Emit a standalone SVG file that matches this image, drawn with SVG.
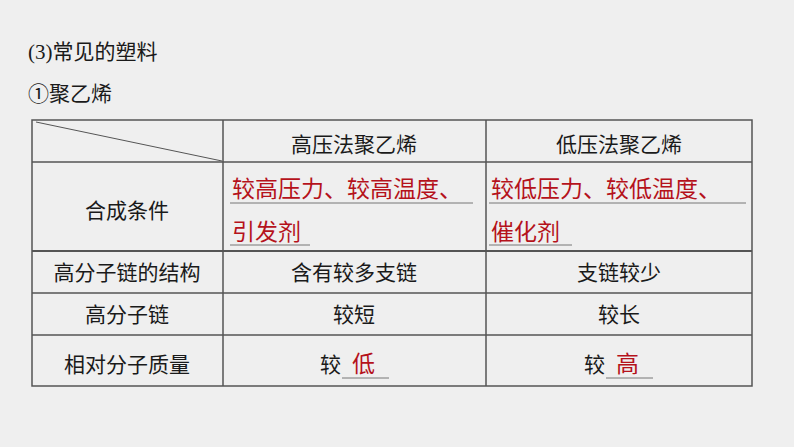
<svg xmlns="http://www.w3.org/2000/svg" width="794" height="447" viewBox="0 0 794 447">
<style>
text{font-family:"Noto Sans CJK SC","Liberation Sans",sans-serif;font-size:21px;fill:#1a1a1a}
.c{text-anchor:middle}
.r{fill:#b5121b;font-size:23px}
.g{stroke:#555;stroke-width:1.5;fill:none}
.u{stroke:#777;stroke-width:1;fill:none}
</style>
<rect width="794" height="447" fill="#efefef"/>
<text x="28" y="59" font-size="22"><tspan font-family="Liberation Serif">(3)</tspan>常见的塑料</text>
<text x="28" y="101" font-size="22">①聚乙烯</text>
<g id="table" class="g">
<rect x="32" y="120" width="720" height="266"/>
<line x1="32" y1="162" x2="752" y2="162"/>
<line x1="32" y1="251" x2="752" y2="251" stroke-width="2"/>
<line x1="32" y1="293" x2="752" y2="293"/>
<line x1="32" y1="335" x2="752" y2="335"/>
<line x1="223" y1="120" x2="223" y2="386"/>
<line x1="486" y1="120" x2="486" y2="386"/>
<line x1="36" y1="122" x2="222" y2="161" stroke-width="1"/>
</g>
<g id="header">
<text class="c" x="354" y="152">高压法聚乙烯</text>
<text class="c" x="619" y="152">低压法聚乙烯</text>
</g>
<g id="row1">
<text class="c" x="127" y="218">合成条件</text>
<text class="r" x="232" y="197">较高压力、较高温度、</text>
<line class="u" x1="230" y1="203" x2="473" y2="203"/>
<text class="r" x="232" y="240">引发剂</text>
<line class="u" x1="230" y1="245" x2="310" y2="245"/>
<text class="r" x="491" y="197">较低压力、较低温度、</text>
<line class="u" x1="489" y1="203" x2="746" y2="203"/>
<text class="r" x="491" y="240">催化剂</text>
<line class="u" x1="489" y1="245" x2="572" y2="245"/>
</g>
<g id="row2">
<text class="c" x="127" y="280">高分子链的结构</text>
<text class="c" x="354" y="280">含有较多支链</text>
<text class="c" x="619" y="280">支链较少</text>
</g>
<g id="row3">
<text class="c" x="127" y="322">高分子链</text>
<text class="c" x="354" y="322">较短</text>
<text class="c" x="619" y="322">较长</text>
</g>
<g id="row4">
<text class="c" x="127" y="372">相对分子质量</text>
<text x="320" y="372">较</text>
<text class="r" x="352" y="372">低</text>
<line class="u" x1="342" y1="378" x2="389" y2="378"/>
<text x="584" y="372">较</text>
<text class="r" x="616" y="372">高</text>
<line class="u" x1="606" y1="378" x2="653" y2="378"/>
</g>
</svg>
